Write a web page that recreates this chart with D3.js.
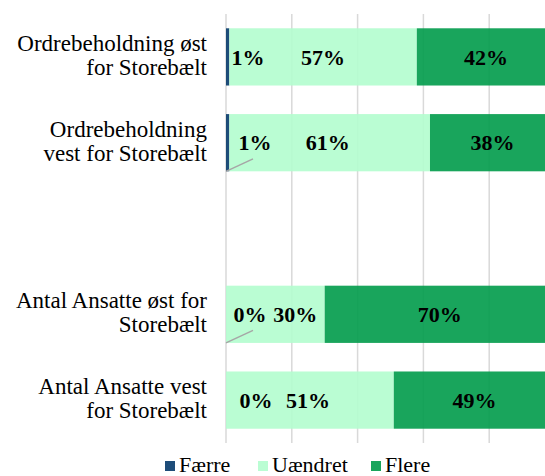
<!DOCTYPE html>
<html>
<head>
<meta charset="utf-8">
<script src="https://cdn.jsdelivr.net/npm/d3@7"></script>
<style>
  body { margin: 0; background: #fff; }
</style>
</head>
<body>
<svg id="chart" width="545" height="476"></svg>
<script>
// data
const categories = ["Ordrebeholdning øst for Storebælt", "Ordrebeholdning vest for Storebælt", "", "Antal Ansatte øst for Storebælt", "Antal Ansatte vest for Storebælt"];
const labelLines = [["Ordrebeholdning øst", "for Storebælt"], ["Ordrebeholdning", "vest for Storebælt"], [], ["Antal Ansatte øst for", "Storebælt"], ["Antal Ansatte vest", "for Storebælt"]];
const seriesNames = ["Færre", "Uændret", "Flere"];
const faerre  = [1, 1, null, 0, 0];
const uaendret = [57, 61, null, 30, 51];
const flere   = [42, 38, null, 70, 49];
const ticks = [0, 20, 40, 60, 80, 100];

// layout tweaks for the small labels (px)
const smallLabelX = [22, 29, null, 24, 30];
const midNudge = [0, -2, null, 20, -2];
const leader = [false, true, false, true, false];

const colors = ["rgb(6,58,106)", "rgb(179,253,206)", "rgb(0,155,74)"];
const serif = "'Liberation Serif', 'Times New Roman', 'DejaVu Serif', serif";

const svg = d3.select("#chart").attr("font-family", serif);
const margin = {top: 14, right: -10, bottom: 33, left: 226};
const width = 545 - margin.left - margin.right;
const height = 476 - margin.top - margin.bottom;

const g = svg.append("g").attr("transform", `translate(${margin.left},${margin.top})`);

const x = d3.scaleLinear().domain([0, 100]).range([0, width]);
const y = d3.scaleBand().domain(d3.range(categories.length)).range([0, height]).paddingInner(0.333).paddingOuter(0.1665);

// gridlines
g.selectAll("line.grid").data(ticks).join("line")
  .attr("class", "grid")
  .attr("x1", d => x(d)).attr("x2", d => x(d))
  .attr("y1", 0).attr("y2", height)
  .attr("stroke", "#d9d9d9").attr("stroke-width", 1.5);

const rows = categories.map((c, i) => ({i, c, v: [faerre[i], uaendret[i], flere[i]]}))
  .filter(d => d.v[0] !== null);

const stack = d3.stack().keys([0, 1, 2]).value((d, k) => d.v[k]);
const series = stack(rows);

g.selectAll("g.series").data(series).join("g")
  .attr("class", "series")
  .attr("fill", d => colors[d.key])
  .attr("fill-opacity", 0.9)
  .selectAll("rect").data(d => d).join("rect")
  .attr("x", d => x(d[0]))
  .attr("y", d => y(d.data.i))
  .attr("width", d => x(d[1]) - x(d[0]))
  .attr("height", y.bandwidth());

// leader lines
g.selectAll("line.leader").data(rows.filter(d => leader[d.i])).join("line")
  .attr("class", "leader")
  .attr("x1", x(0)).attr("y1", d => y(d.i) + y.bandwidth())
  .attr("x2", x(0) + 27).attr("y2", d => y(d.i) + y.bandwidth() - 12.5)
  .attr("stroke", "#a6a6a6").attr("stroke-width", 1.5);

// value labels
rows.forEach((r, j) => {
  const cy = y(r.i) + y.bandwidth() / 2;
  const s1 = series[1][j];
  const s2 = series[2][j];
  const pts = [
    [x(0) + smallLabelX[r.i], r.v[0]],
    [(x(s1[0]) + x(s1[1])) / 2 + midNudge[r.i], r.v[1]],
    [(x(s2[0]) + x(s2[1])) / 2, r.v[2]]
  ];
  pts.forEach(p => {
    g.append("text")
      .attr("font-family", serif)
      .attr("font-size", 22).attr("font-weight", "bold").attr("fill", "#000")
      .attr("x", p[0]).attr("y", cy)
      .attr("dy", "0.35em")
      .attr("text-anchor", "middle")
      .text(p[1] + "%");
  });
});

// category labels
categories.forEach((c, i) => {
  const lines = labelLines[i];
  if (!lines.length) return;
  const cy = margin.top + y(i) + y.bandwidth() / 2;
  const t = svg.append("text")
    .attr("font-family", serif).attr("font-size", 23).attr("fill", "#000")
    .attr("text-anchor", "end")
    .attr("y", cy - 6);
  lines.forEach((l, k) => {
    t.append("tspan").attr("x", 207).attr("dy", k ? 24 : 0).text(l);
  });
});

// legend
const legX = [165, 258, 371];
const leg = svg.append("g");
seriesNames.forEach((n, k) => {
  leg.append("rect").attr("x", legX[k]).attr("y", 461).attr("width", 10).attr("height", 10)
    .attr("fill", colors[k]).attr("fill-opacity", 0.9);
  leg.append("text")
    .attr("font-family", serif).attr("font-size", 22).attr("fill", "#000")
    .attr("x", legX[k] + 14).attr("y", 472).text(n);
});
</script>
</body>
</html>
